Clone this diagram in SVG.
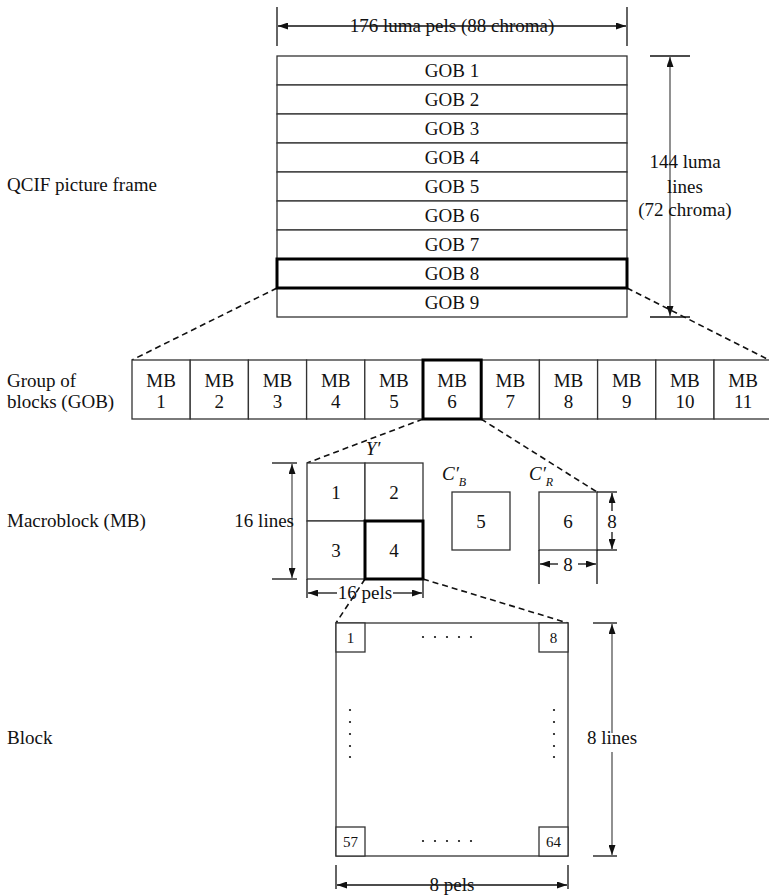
<svg xmlns="http://www.w3.org/2000/svg" width="769" height="895" viewBox="0 0 769 895">
<defs>
<marker id="ah" viewBox="0 0 10 7" refX="10" refY="3.5" markerWidth="10" markerHeight="7" markerUnits="userSpaceOnUse" orient="auto-start-reverse">
<path d="M0,0 L10,3.5 L0,7 Z" fill="#111"/>
</marker>
</defs>
<style>
text{font-family:"Liberation Serif","Times New Roman",serif;font-size:19px;fill:#111}
.c{text-anchor:middle}
.e{text-anchor:end}
.i{font-style:italic}
.sm{font-size:15px}
.sub{font-size:12px;font-style:italic}
.box{fill:#fff;stroke:#333;stroke-width:1.3}
.bold{fill:none;stroke:#000;stroke-width:3}
.dim{fill:none;stroke:#555;stroke-width:1.3}
.tick{fill:none;stroke:#111;stroke-width:1.3}
.da{marker-start:url(#ah);marker-end:url(#ah)}
.a1{marker-end:url(#ah)}
.dash{fill:none;stroke:#111;stroke-width:1.6;stroke-dasharray:6 4}
</style>
<rect width="769" height="895" fill="#fff"/>

<g id="labels">
<text x="7" y="191">QCIF picture frame</text>
<text x="7" y="387">Group of</text>
<text x="7" y="408">blocks (GOB)</text>
<text x="7" y="527">Macroblock (MB)</text>
<text x="7" y="744">Block</text>
</g>

<g id="connectors">
<line class="dash" x1="277" y1="288" x2="132" y2="360"/>
<line class="dash" x1="627" y1="288" x2="769" y2="360"/>
<line class="dash" x1="423" y1="419" x2="307" y2="463"/>
<line class="dash" x1="481" y1="419" x2="597" y2="492"/>
<line class="dash" x1="365" y1="579" x2="336" y2="623"/>
<line class="dash" x1="423" y1="579" x2="568" y2="623"/>
</g>

<g id="qcif-frame">
<rect class="box" x="277" y="56" width="350" height="29"/>
<rect class="box" x="277" y="85" width="350" height="29"/>
<rect class="box" x="277" y="114" width="350" height="29"/>
<rect class="box" x="277" y="143" width="350" height="29"/>
<rect class="box" x="277" y="172" width="350" height="29"/>
<rect class="box" x="277" y="201" width="350" height="29"/>
<rect class="box" x="277" y="230" width="350" height="29"/>
<rect class="box" x="277" y="259" width="350" height="29"/>
<rect class="box" x="277" y="288" width="350" height="29"/>
<rect class="bold" x="277" y="259" width="350" height="29"/>
<text class="c" x="452" y="77">GOB 1</text>
<text class="c" x="452" y="106">GOB 2</text>
<text class="c" x="452" y="135">GOB 3</text>
<text class="c" x="452" y="164">GOB 4</text>
<text class="c" x="452" y="193">GOB 5</text>
<text class="c" x="452" y="222">GOB 6</text>
<text class="c" x="452" y="251">GOB 7</text>
<text class="c" x="452" y="280">GOB 8</text>
<text class="c" x="452" y="309">GOB 9</text>
</g>

<g id="frame-dims">
<line class="tick" x1="277" y1="7" x2="277" y2="46"/>
<line class="tick" x1="627" y1="7" x2="627" y2="46"/>
<line class="tick da" x1="278" y1="26" x2="626" y2="26"/>
<text class="c" x="452" y="32">176 luma pels (88 chroma)</text>
<line class="tick" x1="650" y1="56" x2="690" y2="56"/>
<line class="tick" x1="650" y1="317" x2="690" y2="317"/>
<line class="dim da" x1="670" y1="57" x2="670" y2="316"/>
<text class="c" x="685" y="168">144 luma</text>
<text class="c" x="685" y="193">lines</text>
<text class="c" x="685" y="216">(72 chroma)</text>
</g>

<g id="gob-row">
<rect class="box" x="132" y="360" width="58.2" height="59"/>
<rect class="box" x="190.2" y="360" width="58.2" height="59"/>
<rect class="box" x="248.4" y="360" width="58.2" height="59"/>
<rect class="box" x="306.6" y="360" width="58.2" height="59"/>
<rect class="box" x="364.8" y="360" width="58.2" height="59"/>
<rect class="box" x="423" y="360" width="58.2" height="59"/>
<rect class="box" x="481.2" y="360" width="58.2" height="59"/>
<rect class="box" x="539.4" y="360" width="58.2" height="59"/>
<rect class="box" x="597.6" y="360" width="58.2" height="59"/>
<rect class="box" x="655.8" y="360" width="58.2" height="59"/>
<rect class="box" x="714" y="360" width="58.2" height="59"/>
<rect class="bold" x="423" y="360" width="58.2" height="59"/>
<text class="c" x="161.1" y="387">MB</text><text class="c" x="161.1" y="408">1</text>
<text class="c" x="219.3" y="387">MB</text><text class="c" x="219.3" y="408">2</text>
<text class="c" x="277.5" y="387">MB</text><text class="c" x="277.5" y="408">3</text>
<text class="c" x="335.7" y="387">MB</text><text class="c" x="335.7" y="408">4</text>
<text class="c" x="393.9" y="387">MB</text><text class="c" x="393.9" y="408">5</text>
<text class="c" x="452.1" y="387">MB</text><text class="c" x="452.1" y="408">6</text>
<text class="c" x="510.3" y="387">MB</text><text class="c" x="510.3" y="408">7</text>
<text class="c" x="568.5" y="387">MB</text><text class="c" x="568.5" y="408">8</text>
<text class="c" x="626.7" y="387">MB</text><text class="c" x="626.7" y="408">9</text>
<text class="c" x="684.9" y="387">MB</text><text class="c" x="684.9" y="408">10</text>
<text class="c" x="743.1" y="387">MB</text><text class="c" x="743.1" y="408">11</text>
</g>

<g id="macroblock">
<rect class="box" x="307" y="463" width="58" height="58"/>
<rect class="box" x="365" y="463" width="58" height="58"/>
<rect class="box" x="307" y="521" width="58" height="58"/>
<rect class="box" x="365" y="521" width="58" height="58"/>
<rect class="bold" x="365" y="521" width="58" height="58"/>
<text class="c" x="336" y="499">1</text>
<text class="c" x="394" y="499">2</text>
<text class="c" x="336" y="557">3</text>
<text class="c" x="394" y="557">4</text>
<text class="c i" x="373" y="455">Y′</text>
<line class="tick" x1="272" y1="463" x2="297" y2="463"/>
<line class="tick" x1="272" y1="579" x2="297" y2="579"/>
<line class="dim da" x1="292" y1="464" x2="292" y2="578"/>
<text class="e" x="294" y="527">16 lines</text>
<line class="tick" x1="307" y1="579" x2="307" y2="598"/>
<line class="tick" x1="423" y1="579" x2="423" y2="598"/>
<line class="tick a1" x1="337" y1="593" x2="308" y2="593"/>
<line class="tick a1" x1="393" y1="593" x2="422" y2="593"/>
<text class="c" x="365" y="599">16 pels</text>
</g>

<g id="cb">
<rect class="box" x="452" y="492" width="58" height="58"/>
<text class="c" x="481" y="528">5</text>
<text class="i" x="442" y="480">C′<tspan class="sub" dx="0" dy="6">B</tspan></text>
</g>

<g id="cr">
<rect class="box" x="539" y="492" width="58" height="58"/>
<text class="c" x="568" y="528">6</text>
<text class="i" x="529" y="480">C′<tspan class="sub" dx="0" dy="6">R</tspan></text>
<line class="tick" x1="597" y1="492" x2="617" y2="492"/>
<line class="tick" x1="597" y1="550" x2="617" y2="550"/>
<line class="tick a1" x1="612" y1="511" x2="612" y2="493"/>
<line class="tick a1" x1="612" y1="532" x2="612" y2="549"/>
<text class="c" x="612" y="528">8</text>
<line class="tick" x1="539" y1="550" x2="539" y2="584"/>
<line class="tick" x1="597" y1="550" x2="597" y2="584"/>
<line class="tick a1" x1="558" y1="564" x2="540" y2="564"/>
<line class="tick a1" x1="578" y1="564" x2="596" y2="564"/>
<text class="c" x="568" y="571">8</text>
</g>

<g id="block">
<rect class="box" x="336" y="623" width="232" height="233"/>
<rect class="box" x="336" y="623" width="29" height="29"/>
<rect class="box" x="539" y="623" width="29" height="29"/>
<rect class="box" x="336" y="827" width="29" height="29"/>
<rect class="box" x="539" y="827" width="29" height="29"/>
<text class="c sm" x="350.5" y="643">1</text>
<text class="c sm" x="553.5" y="643">8</text>
<text class="c sm" x="350.5" y="847">57</text>
<text class="c sm" x="553.5" y="847">64</text>
<g fill="#111">
<circle cx="423" cy="637" r="1.1"/><circle cx="435" cy="637" r="1.1"/><circle cx="447" cy="637" r="1.1"/><circle cx="459" cy="637" r="1.1"/><circle cx="471" cy="637" r="1.1"/>
<circle cx="423" cy="841" r="1.1"/><circle cx="435" cy="841" r="1.1"/><circle cx="447" cy="841" r="1.1"/><circle cx="459" cy="841" r="1.1"/><circle cx="471" cy="841" r="1.1"/>
<circle cx="350" cy="710" r="1.1"/><circle cx="350" cy="722" r="1.1"/><circle cx="350" cy="734" r="1.1"/><circle cx="350" cy="746" r="1.1"/><circle cx="350" cy="757" r="1.1"/>
<circle cx="554" cy="710" r="1.1"/><circle cx="554" cy="722" r="1.1"/><circle cx="554" cy="734" r="1.1"/><circle cx="554" cy="746" r="1.1"/><circle cx="554" cy="757" r="1.1"/>
</g>
<line class="tick" x1="593" y1="623" x2="617" y2="623"/>
<line class="tick" x1="593" y1="856" x2="617" y2="856"/>
<line class="dim a1" x1="612" y1="733" x2="612" y2="624"/>
<line class="dim a1" x1="612" y1="752" x2="612" y2="855"/>
<text class="c" x="612" y="744">8 lines</text>
<line class="tick" x1="336" y1="865" x2="336" y2="889"/>
<line class="tick" x1="568" y1="865" x2="568" y2="889"/>
<line class="tick da" x1="337" y1="885" x2="567" y2="885"/>
<text class="c" x="452" y="891">8 pels</text>
</g>
</svg>
